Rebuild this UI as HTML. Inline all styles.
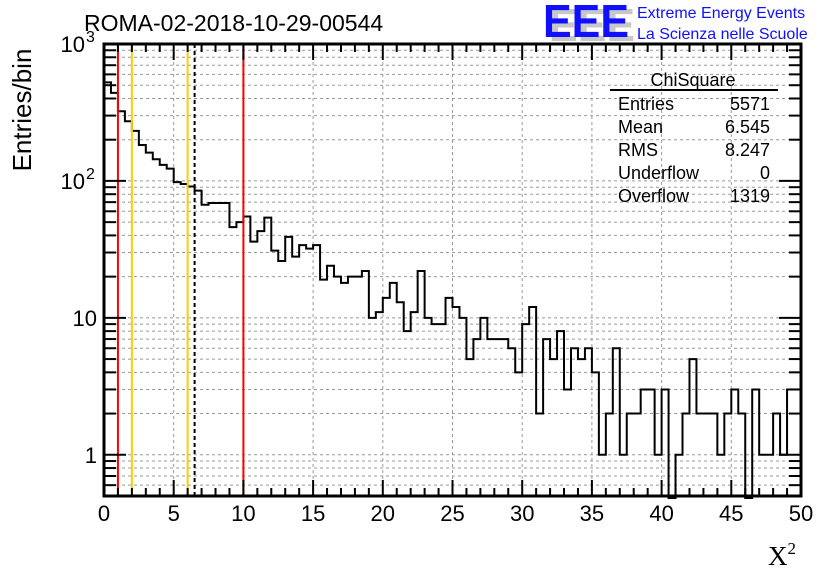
<!DOCTYPE html>
<html><head><meta charset="utf-8"><style>
html,body{margin:0;padding:0;background:#fff;}
svg{display:block;font-family:"Liberation Sans",sans-serif;}
</style></head><body>
<svg id="c" width="836" height="572" viewBox="0 0 836 572">
<text x="84" y="31" font-size="23">ROMA-02-2018-10-29-00544</text>
<g>
<text x="549" y="41" font-size="46" font-weight="bold" fill="#c8c8c8" textLength="86" lengthAdjust="spacingAndGlyphs">EEE</text>
<text x="543" y="37" font-size="46" font-weight="bold" fill="#1010ff" textLength="86" lengthAdjust="spacingAndGlyphs">EEE</text>
<text x="637" y="18" font-size="16" fill="#1010ff">Extreme Energy Events</text>
<text x="637" y="39" font-size="16" fill="#1010ff">La Scienza nelle Scuole</text>
</g>
<g id="grid"></g>
<g id="marks"></g>
<g id="ticks"></g>
<g font-size="18">
<text x="693" y="86" text-anchor="middle">ChiSquare</text>
<line x1="610" y1="90" x2="778" y2="90" stroke="#000" stroke-width="2"/>
<text x="618" y="110">Entries</text><text x="770" y="110" text-anchor="end">5571</text>
<text x="618" y="133">Mean</text><text x="770" y="133" text-anchor="end">6.545</text>
<text x="618" y="156">RMS</text><text x="770" y="156" text-anchor="end">8.247</text>
<text x="618" y="179">Underflow</text><text x="770" y="179" text-anchor="end">0</text>
<text x="618" y="202">Overflow</text><text x="770" y="202" text-anchor="end">1319</text>
</g>
<text transform="translate(31,110) rotate(-90)" font-size="26" text-anchor="middle">Entries/bin</text>
<text x="768" y="565" font-size="27" font-family="Liberation Serif,serif">X<tspan dy="-11" font-size="17">2</tspan></text>
</svg>
<script>
const counts=[525,440,323,273,232,183,161,144,131,123,98,95,91,85,67,69,69,69,46,50,55,36,43,54,31,26,39,28,34,32,34,19,24,20,18,20,20,22,10,11,14,18,13,8,11,22,10,9,9,14,12,10,5,7,10,7,7,7,6,4,9,12,2,7,5,8,3,6,5,6,4,1,2,6,1,2,2,3,3,1,3,0,1,2,5,2,2,2,1,2,3,2,0,3,1,1,2,1,3,3];
const xTicks=[0,5,10,15,20,25,30,35,40,45,50];
const yTicks=[1,10,100,1000];
const yTickLabels=["1","10","10","10"];
const yTickExp=["","","2","3"];
const cutLines=[{v:1,c:"#ff0000",d:""},{v:2,c:"#ffcc00",d:""},{v:6,c:"#ffcc00",d:""},{v:6.5,c:"#000",d:"4,3"},{v:10,c:"#ff0000",d:""}];
const binW=0.5, xMin=0, xMax=50, yMin=0.5, yMax=1000;
const L=104,R=801,T=44,B=496;
const sx=v=>L+(v-xMin)/(xMax-xMin)*(R-L);
const sy=v=>B-(Math.log10(v)-Math.log10(yMin))/(Math.log10(yMax)-Math.log10(yMin))*(B-T);
const NS="http://www.w3.org/2000/svg";
function mk(t,a,p){const e=document.createElementNS(NS,t);for(const k in a)e.setAttribute(k,a[k]);p.appendChild(e);return e;}
const grid=document.getElementById('grid'),marks=document.getElementById('marks'),ticks=document.getElementById('ticks');
xTicks.forEach(v=>{if(v>xMin&&v<xMax){const g=mk('line',{x1:sx(v),x2:sx(v),y1:T,y2:B,stroke:'#999','stroke-dasharray':'3,3'},grid);

}});
for(let d=0.1;d<1000;d*=10){for(let m=1;m<10;m++){const v=Math.round(d*m*100)/100;if(v>yMin&&v<yMax){const g=mk('line',{x1:L,x2:R,y1:sy(v),y2:sy(v),stroke:'#999','stroke-dasharray':'3,3'},grid);

}}}
let d='';let started=false;
counts.forEach((c,i)=>{const x0=sx(xMin+i*binW),x1=sx(xMin+(i+1)*binW);const y=c>0?Math.min(sy(c),B+2):B+2;
if(!started){d+='M'+x0+','+y;started=true;}else d+='L'+x0+','+y;d+='L'+x1+','+y;});
const h=mk('path',{d:d,fill:'none',stroke:'#000','stroke-width':2},marks);


cutLines.forEach(c=>{const l=mk('line',{x1:sx(c.v),x2:sx(c.v),y1:T,y2:B,stroke:c.c,'stroke-width':2,'stroke-dasharray':c.d},marks);

});
const f=mk('rect',{x:L,y:T,width:R-L,height:B-T,fill:'none',stroke:'#000','stroke-width':3},ticks);


for(let v=xMin;v<=xMax;v+=1){const big=v%5===0;const len=big?16:8;
mk('line',{x1:sx(v),x2:sx(v),y1:B,y2:B-len,stroke:'#000','stroke-width':2},ticks);
mk('line',{x1:sx(v),x2:sx(v),y1:T,y2:T+len,stroke:'#000','stroke-width':2},ticks);}
xTicks.forEach(v=>{const t=mk('text',{x:sx(v),y:521,'font-size':22,'text-anchor':'middle'},ticks);t.textContent=v;

});
for(let dd=0.1;dd<1000;dd*=10){for(let m=1;m<10;m++){const v=Math.round(dd*m*100)/100;if(v>=yMin&&v<=yMax){const len=m===1?22:12;
mk('line',{x1:L,x2:L+len,y1:sy(v),y2:sy(v),stroke:'#000','stroke-width':2},ticks);
mk('line',{x1:R,x2:R-len,y1:sy(v),y2:sy(v),stroke:'#000','stroke-width':2},ticks);}}}
yTicks.forEach((v,i)=>{const t=mk('text',{x:yTickExp[i]?85:97,y:sy(v)+8,'font-size':22,'text-anchor':'end'},ticks);t.textContent=yTickLabels[i];


if(yTickExp[i]){const e=mk('text',{x:86,y:sy(v)-2,'font-size':16},ticks);e.textContent=yTickExp[i];

}});
</script>
</body></html>
